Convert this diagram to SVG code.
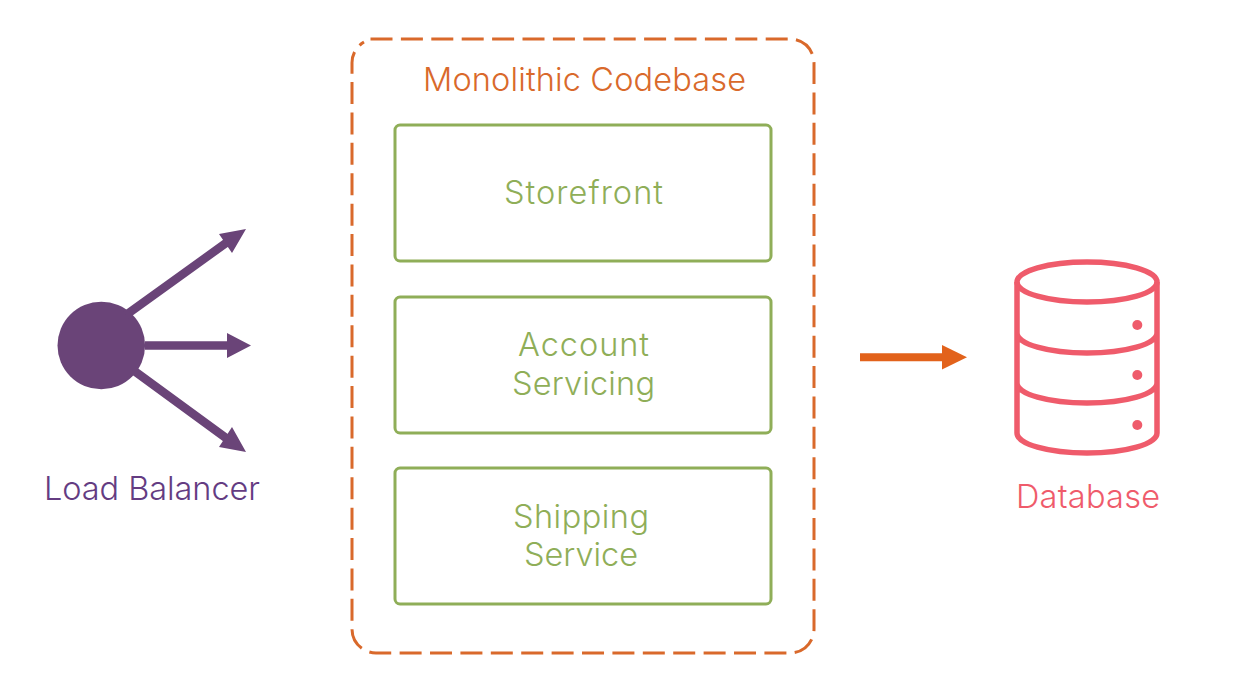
<svg xmlns="http://www.w3.org/2000/svg" width="1235" height="696" viewBox="0 0 1235 696">
<style>
text{font-family:"Inter","Lato",sans-serif;font-weight:300;font-size:32.5px;text-anchor:middle}
.box{fill:none;stroke:#8fae58;stroke-width:3}
.g{fill:#8fae58}
.p{stroke:#6a4478;stroke-width:8.500;fill:none}
.db{fill:none;stroke:#ef5b6b;stroke-width:5.500}
.dot{fill:#ef5b6b}
</style>
<rect width="1235" height="696" fill="#fff"/>
<g id="monolith"><path fill="none" stroke="#d9692b" stroke-width="3" stroke-dasharray="22 8.4" d="M370.500 39H790A24 24 0 0 1 814 63V629A24 24 0 0 1 790 653H376A24 24 0 0 1 352 629V63A24 24 0 0 1 364 42"/><text x="584.500" y="90.500" fill="#d9692b" textLength="323">Monolithic Codebase</text></g>
<g id="storefront"><rect class="box" x="395" y="125" width="376" height="136" rx="5"/><text class="g" x="583.500" y="203.500" textLength="159">Storefront</text></g>
<g id="account"><rect class="box" x="395" y="297" width="376" height="136" rx="5"/><text class="g" x="583.500" y="355.500" textLength="131">Account</text><text class="g" x="583.500" y="394.500" textLength="143">Servicing</text></g>
<g id="shipping"><rect class="box" x="395" y="468" width="376" height="136" rx="5"/><text class="g" x="581" y="527.500" textLength="136">Shipping</text><text class="g" x="581" y="566" textLength="114">Service</text></g>
<g id="lb"><circle cx="101.300" cy="345.500" r="43.800" fill="#6a4478"/><text x="152" y="499.500" fill="#643c82" textLength="216">Load Balancer</text></g>
<g id="database"><ellipse class="db" cx="1087" cy="282" rx="70" ry="20"/><path class="db" d="M1017 282V433A70 20 0 0 0 1157 433V282M1017 333A70 20 0 0 0 1157 333M1017 383A70 20 0 0 0 1157 383"/><circle class="dot" cx="1137.300" cy="325" r="5"/><circle class="dot" cx="1137.300" cy="375" r="5"/><circle class="dot" cx="1137.300" cy="425" r="5"/><text x="1088" y="507.500" fill="#ef5b6b" textLength="144">Database</text></g>
<g id="connectors">
<path class="p" d="M126 315L226 243M145 345.500H230M133 370L226 438"/>
<path fill="#6a4478" d="M246 229L232 253L219 234ZM251 345.500L227 358V333ZM246 452L219 447L232 427Z"/>
<path stroke="#e2621b" stroke-width="8" d="M860 357.300H945"/><path fill="#e2621b" d="M967 357.300L942 369.500V345Z"/>
</g>
</svg>
